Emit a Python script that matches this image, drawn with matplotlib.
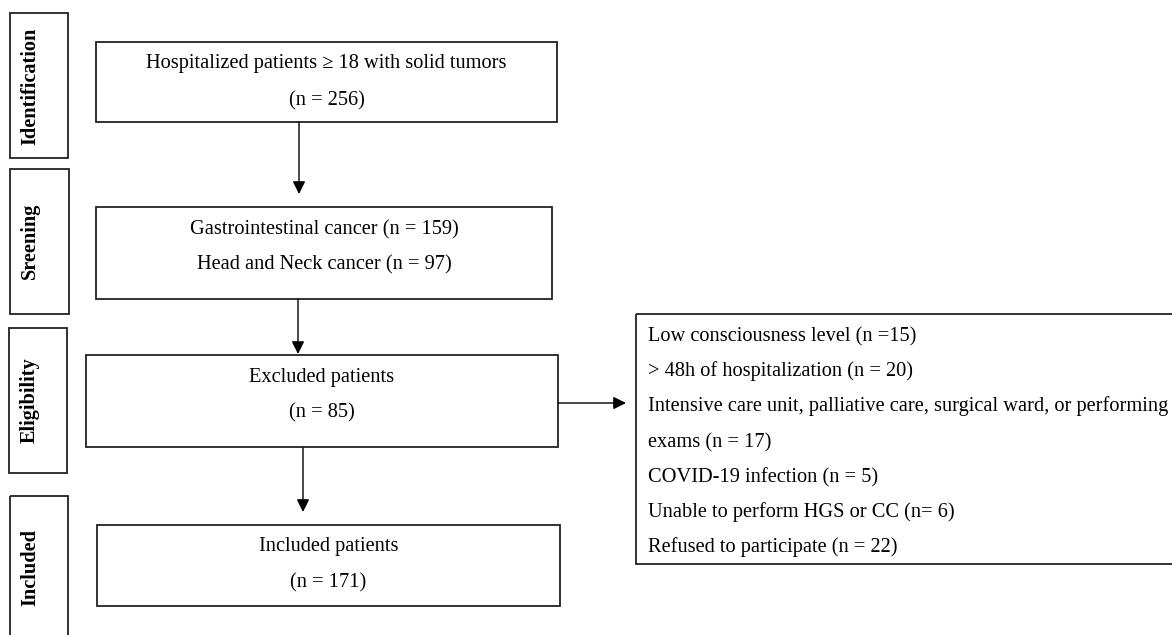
import matplotlib
matplotlib.use("Agg")
import matplotlib.pyplot as plt
from matplotlib.patches import Rectangle

plt.rcParams['font.family'] = ['Liberation Serif', 'DejaVu Serif']

# flowchart content
stage_labels = ["Identification", "Sreening", "Eligibility", "Included"]
box_lines = [
    ["Hospitalized patients \u2265 18 with solid tumors", "(n = 256)"],
    ["Gastrointestinal cancer (n = 159)", "Head and Neck cancer (n = 97)"],
    ["Excluded patients", "(n = 85)"],
    ["Included patients", "(n = 171)"],
]
excluded_reasons = [
    "Low consciousness level (n =15)",
    "> 48h of hospitalization (n = 20)",
    "Intensive care unit, palliative care, surgical ward, or performing",
    "exams (n = 17)",
    "COVID-19 infection (n = 5)",
    "Unable to perform HGS or CC (n= 6)",
    "Refused to participate (n = 22)",
]

W, H = 1172, 635
fig = plt.figure(figsize=(W / 100, H / 100), dpi=100)
ax = fig.add_axes([0, 0, 1, 1])
ax.set_xlim(0, W)
ax.set_ylim(H, 0)
ax.axis("off")

edge = "#222222"
fs = 14.7

def box(x0, y0, x1, y1):
    ax.add_patch(Rectangle((x0, y0), x1 - x0, y1 - y0, fill=False,
                           edgecolor=edge, linewidth=1.3))

def arrow(x0, y0, x1, y1):
    ax.annotate("", xy=(x1, y1), xytext=(x0, y0),
                arrowprops=dict(arrowstyle="-|>", color="black", lw=1.0,
                                mutation_scale=19, shrinkA=0, shrinkB=0))

# stage label boxes on the left
label_boxes = [(10, 13, 68, 158), (10, 169, 69, 314), (9, 328, 67, 473), (10, 496, 68, 645)]
label_cy = [86, 241, 400, 568]
for (x0, y0, x1, y1), lab, cy in zip(label_boxes, stage_labels, label_cy):
    box(x0, y0, x1, y1)
    ax.text(30, cy, lab, rotation=90, ha="center", va="center",
            fontsize=14.6, fontweight="bold")

# main boxes
main_boxes = [(96, 42, 557, 122), (96, 207, 552, 299), (86, 355, 558, 447), (97, 525, 560, 606)]
baselines = [(68, 105), (234, 269), (382, 417), (551, 587)]
for (x0, y0, x1, y1), lines, ys in zip(main_boxes, box_lines, baselines):
    box(x0, y0, x1, y1)
    cx = (x0 + x1) / 2
    for s, y in zip(lines, ys):
        ax.text(cx, y, s, ha="center", va="baseline", fontsize=fs)

arrow(299, 122, 299, 194)
arrow(298, 299, 298, 354)
arrow(303, 448, 303, 512)
arrow(558, 403, 626, 403)

# excluded reasons box
box(636, 314, 1185, 564)
reason_base = [341, 376, 411, 447, 482, 517, 552]
for s, y in zip(excluded_reasons, reason_base):
    ax.text(648, y, s, ha="left", va="baseline", fontsize=fs)

fig.savefig("out.png", dpi=100, facecolor="white")
